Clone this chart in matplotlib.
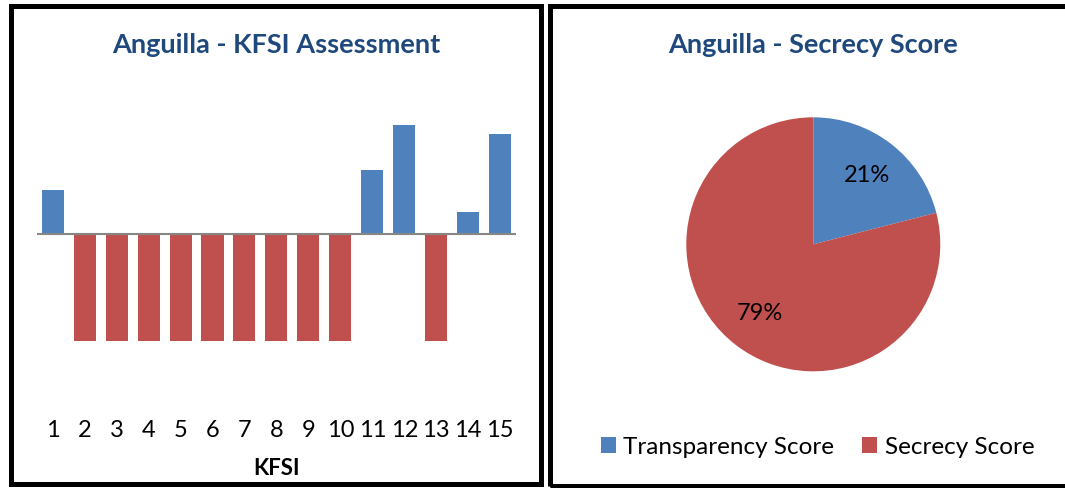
"""
Anguilla: KFSI assessment bars and secrecy score pie, side by side.
"""

from matplotlib import pyplot
from matplotlib.patches import Rectangle

# KFSI assessment (positive = transparent, negative = secretive)
kfsi = list(range(1, 16))
kfsi_values = [0.41, -1, -1, -1, -1, -1, -1, -1, -1, -1, 0.6, 1.02, -1, 0.21, 0.94]

# secrecy score split
score_labels = ['Transparency Score', 'Secrecy Score']
score_values = [21, 79]

blue, red = '#4F81BD', '#C0504D'
title_color = '#1F497D'

pyplot.rc('font', family=['Lato', 'DejaVu Sans'], size=16)
fig = pyplot.figure(figsize=(10.65, 4.88), dpi=100)

# panel frames
fig.patches.append(Rectangle((0.00986, 0.0082), 0.4981, 0.9795, transform=fig.transFigure,
                             fill=False, edgecolor='black', linewidth=3.6))
fig.patches.append(Rectangle((0.5160, 0.0031), 0.50, 0.9846, transform=fig.transFigure,
                             fill=False, edgecolor='black', linewidth=3.6))

# left: bar chart
ax = fig.add_axes([0.03455, 0.1931, 0.4500, 0.6547])
bar_colors = [blue if v > 0 else red for v in kfsi_values]
ax.bar(kfsi, kfsi_values, width=0.69, color=bar_colors)
ax.axhline(0, color='#868686', linewidth=1.5)
ax.set_xlim(0.5, 15.5)
ax.set_ylim(-1.5, 1.5)
ax.set_xticks(kfsi)
ax.set_xticklabels([str(k) for k in kfsi], fontsize=17)
ax.tick_params(axis='x', length=0, pad=19)
ax.set_yticks([])
for side in ['top', 'right', 'bottom', 'left']:
    ax.spines[side].set_visible(False)
ax.set_xlabel('KFSI', fontweight='bold', fontsize=16)
ax.xaxis.set_label_coords(0.5, -0.2324)
ax.xaxis.label.set_va('center')
ax.set_title('Anguilla - KFSI Assessment', color=title_color, fontweight='bold',
             fontsize=19.5, y=1.0915, va='center', pad=0)

# right: pie chart
ax2 = fig.add_axes([0.6444, 0.2391, 0.2385, 0.5205])
wedges, texts, autotexts = ax2.pie(score_values, colors=[blue, red], startangle=90,
                                   counterclock=False, autopct='%d%%',
                                   pctdistance=0.69, radius=1.0,
                                   textprops={'fontsize': 17})
ax2.set_xlim(-1, 1)
ax2.set_ylim(-1, 1)
ax2.set_title('Anguilla - Secrecy Score', color=title_color, fontweight='bold',
              fontsize=19.5, y=1.2846, va='center', pad=0)

fig.legend(wedges, score_labels, loc='center', bbox_to_anchor=(0.7676, 0.084),
           ncol=2, frameon=False, fontsize=17.5, handlelength=0.62, handleheight=0.62,
           handletextpad=0.3, columnspacing=1.15)

fig.savefig('out.png', dpi=100)
